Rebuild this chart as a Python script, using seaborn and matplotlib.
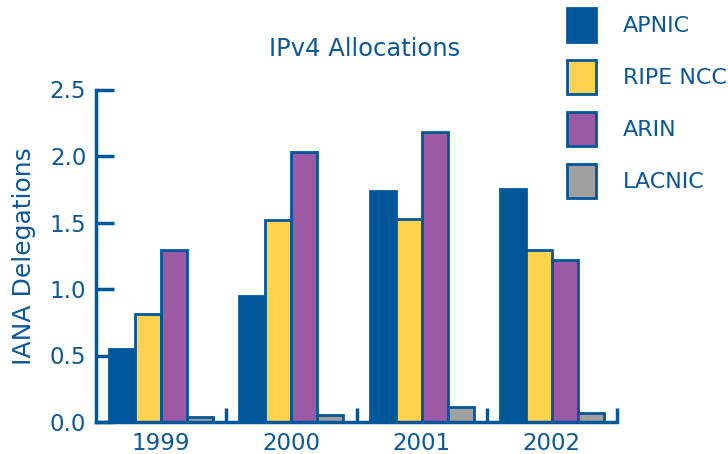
import matplotlib
matplotlib.use("Agg")
import matplotlib.pyplot as plt
import seaborn as sns
import pandas as pd
import numpy as np
from matplotlib.patches import Patch
from matplotlib.ticker import FixedLocator

years = ["1999", "2000", "2001", "2002"]
registries = ["APNIC", "RIPE NCC", "ARIN", "LACNIC"]
apnic = [0.55, 0.95, 1.74, 1.75]
ripe = [0.81, 1.52, 1.53, 1.29]
arin = [1.29, 2.03, 2.18, 1.22]
lacnic = [0.04, 0.05, 0.11, 0.07]
yticks = [0.0, 0.5, 1.0, 1.5, 2.0, 2.5]

fills = ["#02569A", "#FFD24F", "#9B5AA3", "#A0A0A0"]
edge = "#02569A"
txt = "#0E5797"

rows = []
for reg, vals in zip(registries, [apnic, ripe, arin, lacnic]):
    for y, v in zip(years, vals):
        rows.append({"Year": y, "Registry": reg, "Value": v})
df = pd.DataFrame(rows)

sns.set_style("white")
plt.rcParams["font.family"] = ["DejaVu Sans"]

fig = plt.figure(figsize=(7.28, 4.54), dpi=100)
ax = fig.add_axes([96/728, 1-422/454, (617-96)/728, (422-89.5)/454])

sns.barplot(data=df, x="Year", y="Value", hue="Registry", order=years,
            hue_order=registries, palette=fills, width=0.8, ax=ax,
            legend=False, saturation=1, linewidth=2, edgecolor=edge)

ax.set_xlim(-0.5, 3.5)
ax.set_ylim(0, 2.5)
ax.set_yticks(yticks)
ax.set_yticklabels([f"{t:.1f}" for t in yticks])
ax.xaxis.set_minor_locator(FixedLocator([0.5, 1.5, 2.5, 3.5]))
ax.tick_params(axis="y", which="major", left=True, direction="in", length=13, width=2.5,
               color=edge, labelcolor=txt, labelsize=16.5, pad=7)
ax.tick_params(axis="x", which="major", bottom=False, length=0, labelcolor=txt, labelsize=16.5, pad=7)
ax.tick_params(axis="x", which="minor", bottom=True, direction="in", length=10, width=2.5, color=edge)
for s in ["top", "right"]:
    ax.spines[s].set_visible(False)
for s in ["left", "bottom"]:
    ax.spines[s].set_color(edge)
    ax.spines[s].set_linewidth(2.5)
ax.set_xlabel("")
ax.set_ylabel("IANA Delegations", color=txt, fontsize=18, labelpad=10)
ax.set_title("IPv4 Allocations", color=txt, fontsize=17.5, pad=24, x=0.516)

handles = [Patch(facecolor=c, edgecolor=edge, linewidth=2) for c in fills]
fig.legend(handles, registries, loc="upper left",
           bbox_to_anchor=(567/728, 1-8/454), frameon=False, fontsize=16,
           labelcolor=txt, handlelength=1.3, handleheight=1.98,
           labelspacing=0.81, handletextpad=1.2, borderpad=0, borderaxespad=0)

fig.savefig("out.png", dpi=100)
